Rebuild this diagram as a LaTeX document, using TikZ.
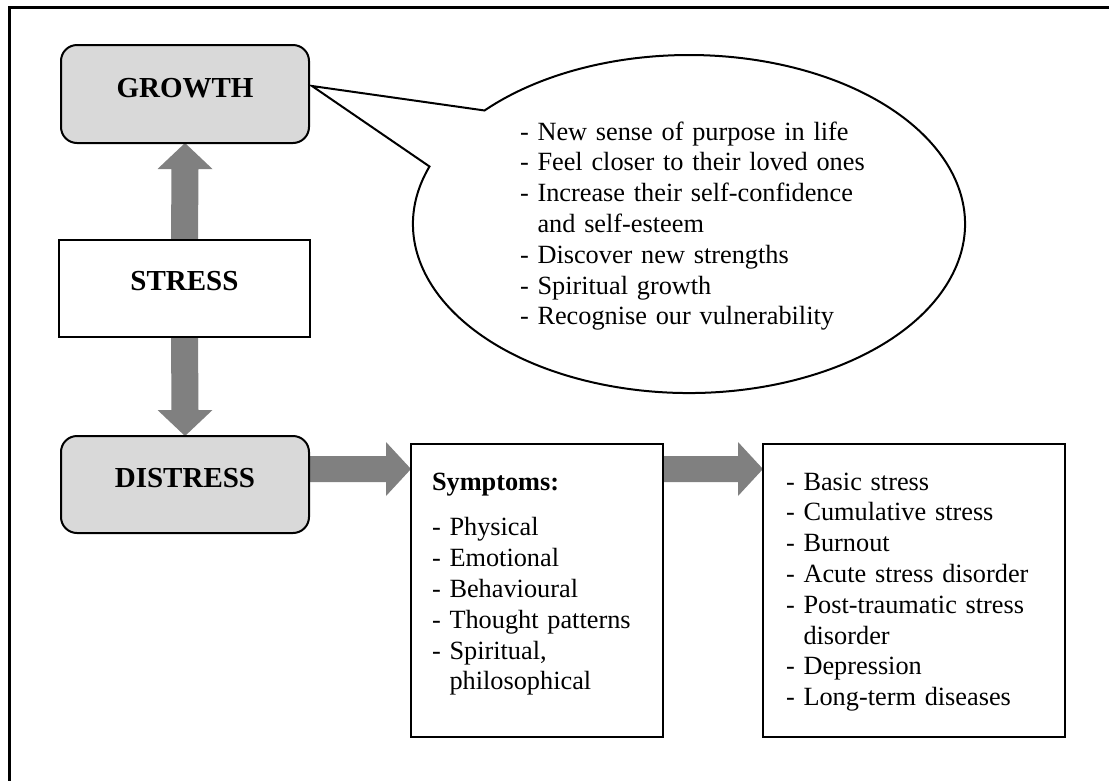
\documentclass[tikz,border=0pt]{standalone}
\usepackage{fontspec}
\setmainfont{Liberation Serif}
\usetikzlibrary{calc}
\pgfdeclarelayer{background}
\pgfsetlayers{background,main}
\definecolor{arrowgray}{HTML}{808080}
\definecolor{boxgray}{HTML}{D9D9D9}
\begin{document}
\begin{tikzpicture}[x=1pt,y=-1pt,
  every node/.style={inner sep=0pt, outer sep=0pt},
  title/.style={font=\fontsize{29}{33}\selectfont\bfseries, align=center},
  graybox/.style={draw, line width=2pt, fill=boxgray, rounded corners=16pt},
  plainbox/.style={draw, line width=2pt, fill=white},
  listtext/.style={font=\fontsize{26.3}{30.8}\selectfont, text width=420pt, align=left, anchor=base west},
  blockarrow/.style={fill=arrowgray},
  frameline/.style={line width=2.6pt},
  bubbleline/.style={draw, line width=2pt, fill=white, line join=miter}
]
\useasboundingbox (0,0) rectangle (1109,780);
\draw[frameline] (9.3,800) -- (9.3,7.4) -- (1130,7.4);

% boxes
\node[graybox, title, minimum width=248pt, minimum height=98pt, text height=52pt, text depth=46pt] (growth) at (185,94) {GROWTH};
\node[plainbox, title, minimum width=251pt, minimum height=97pt, text height=50pt, text depth=47pt] (stress) at (184.5,288.5) {STRESS};
\node[graybox, title, minimum width=248pt, minimum height=97pt, text height=51pt, text depth=46pt] (distress) at (185,484.5) {DISTRESS};
\node[plainbox, minimum width=252pt, minimum height=293pt] (symptoms) at (537,590.5) {};
\node[plainbox, minimum width=302pt, minimum height=293pt] (disorders) at (914,590.5) {};

% speech bubble
\coordinate (bc) at (689,224);
\coordinate (tip) at ([xshift=3pt,yshift=8pt]growth.east);
\draw[bubbleline] (tip) -- ($(bc)+(160.1:276pt and 169pt)$) arc[start angle=160.1, end angle=497.8, x radius=276pt, y radius=169pt] -- cycle;

% texts
\node[listtext] (growthtext) at (520,140) {- New sense of purpose in life\\- Feel closer to their loved ones\\- Increase their self-confidence\\\phantom{- }and self-esteem\\- Discover new strengths\\- Spiritual growth\\- Recognise our vulnerability};
\node[listtext] (symptext) at (432,490) {\textbf{Symptoms:}\\[15pt]- Physical\\- Emotional\\- Behavioural\\- Thought patterns\\- Spiritual,\\\phantom{- }philosophical};
\node[listtext] (distext) at (786,490) {- Basic stress\\- Cumulative stress\\- Burnout\\- Acute stress disorder\\- Post-traumatic stress\\\phantom{- }disorder\\- Depression\\- Long-term diseases};

% block arrows
\coordinate (s1) at ([yshift=15.5pt]distress.east);
\coordinate (e1) at (symptoms.west |- s1);
\coordinate (s2) at (symptoms.east |- s1);
\coordinate (e2) at (disorders.west |- s1);
\begin{pgfonlayer}{background}
\fill[blockarrow] ([xshift=-13.5pt]stress.north) -- ([xshift=-13.5pt,yshift=-26pt]growth.south) -- ([xshift=-27.5pt,yshift=-26pt]growth.south) -- (growth.south) -- ([xshift=27.5pt,yshift=-26pt]growth.south) -- ([xshift=13.5pt,yshift=-26pt]growth.south) -- ([xshift=13.5pt]stress.north) -- cycle;
\fill[blockarrow] ([xshift=-13.5pt]stress.south) -- ([xshift=-13.5pt,yshift=26pt]distress.north) -- ([xshift=-27.5pt,yshift=26pt]distress.north) -- (distress.north) -- ([xshift=27.5pt,yshift=26pt]distress.north) -- ([xshift=13.5pt,yshift=26pt]distress.north) -- ([xshift=13.5pt]stress.south) -- cycle;
\fill[blockarrow] ([yshift=13pt]s1) -- ([xshift=-25pt,yshift=13pt]e1) -- ([xshift=-25pt,yshift=27pt]e1) -- (e1) -- ([xshift=-25pt,yshift=-27pt]e1) -- ([xshift=-25pt,yshift=-13pt]e1) -- ([yshift=-13pt]s1) -- cycle;
\fill[blockarrow] ([yshift=13pt]s2) -- ([xshift=-25pt,yshift=13pt]e2) -- ([xshift=-25pt,yshift=27pt]e2) -- (e2) -- ([xshift=-25pt,yshift=-27pt]e2) -- ([xshift=-25pt,yshift=-13pt]e2) -- ([yshift=-13pt]s2) -- cycle;
\end{pgfonlayer}
\end{tikzpicture}
\end{document}
